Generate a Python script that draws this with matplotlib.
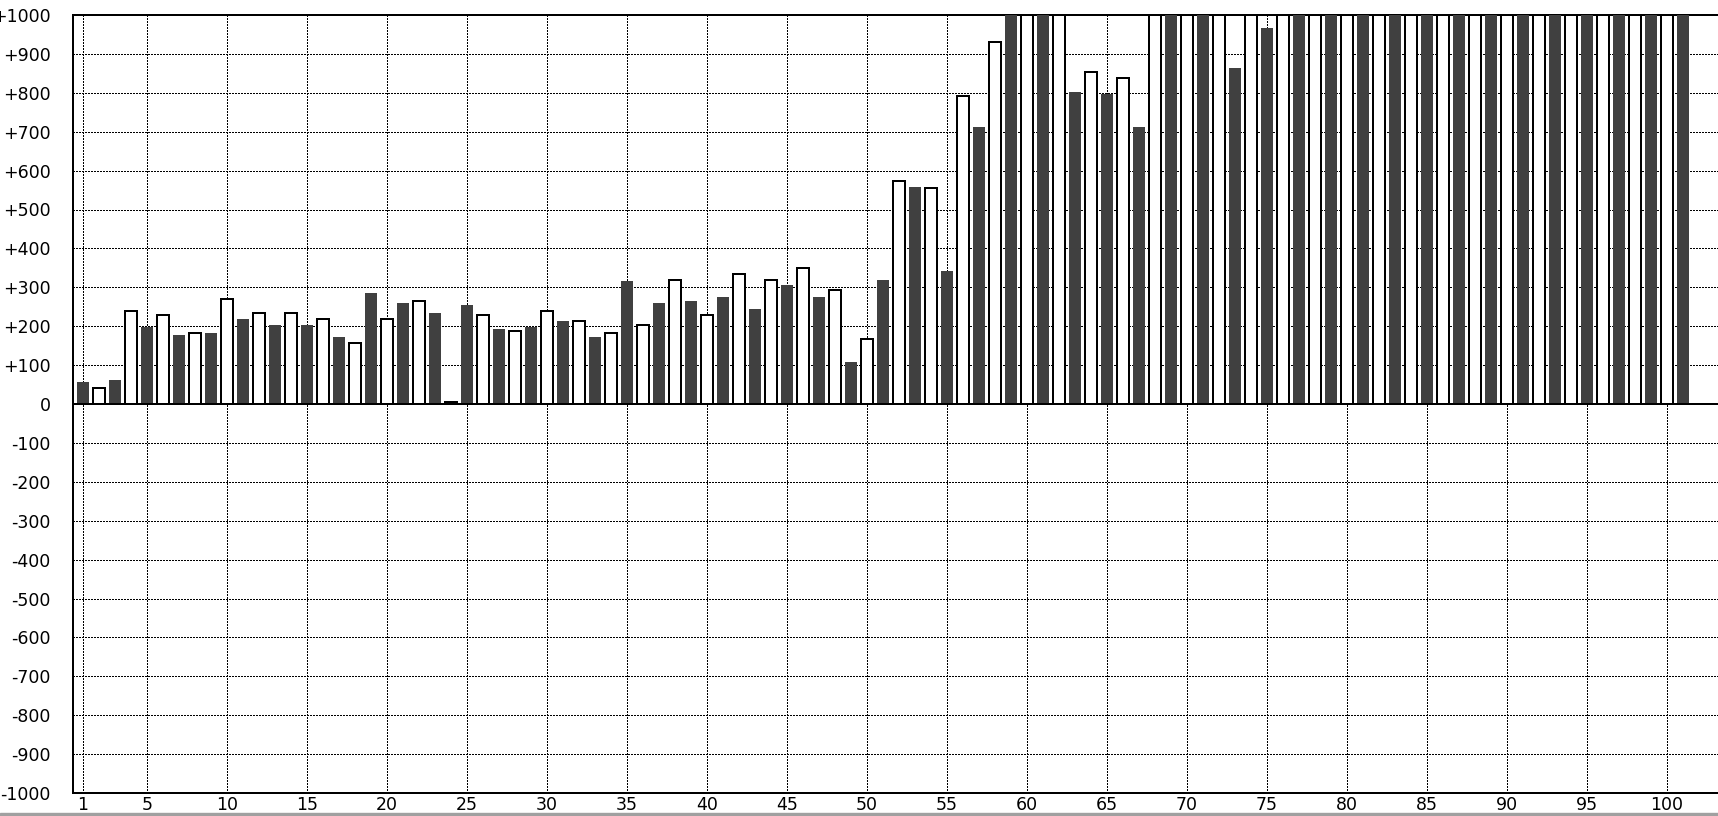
import numpy as np
import matplotlib.pyplot as plt
from matplotlib.patches import Rectangle

"""Bar data read off the chart (bars above +1000 are cut off at the top)"""
positions = np.arange(1, 102)
values = [57, 40, 62, 240, 198, 230, 177, 183, 182, 271,
          219, 235, 203, 235, 203, 219, 172, 157, 286, 219,
          260, 266, 234, 5, 255, 230, 193, 188, 198, 240,
          213, 214, 172, 183, 317, 204, 260, 318, 265, 230,
          276, 334, 245, 318, 307, 350, 276, 292, 109, 167,
          320, 574, 558, 554, 341, 792, 713, 931, 1000, 1000,
          1000, 1000, 801, 854, 796, 838, 713, 1000, 1000, 1000,
          1000, 1000, 863, 1000, 966] + [1000] * 26
x_ticks = [1] + list(range(5, 101, 5))
y_ticks = list(range(-1000, 1001, 100))

plt.rcParams['font.family'] = ['DejaVu Sans']

fig = plt.figure(figsize=(17.18, 8.16), dpi=100)
fig.patch.set_facecolor("white")
W, H = 1718, 816
ax = fig.add_axes([73 / W, 23 / H, (W - 73) / W, (793 - 15) / H])

values = np.array(values)
dark = positions % 2 == 1
ax.bar(positions[dark], values[dark], width=0.75, color="#404040", zorder=3)
ax.bar(positions[~dark], values[~dark], width=0.75, color="white",
       edgecolor="black", linewidth=1.44, zorder=3)
ax.axhline(0, color="black", linewidth=1.44, zorder=4)

x0 = 1 - (82.7 - 73) / 16
ax.set_xlim(x0, x0 + (W - 73) / 16)
ax.set_ylim(-1000, 1000)

ax.set_xticks(x_ticks)
ax.set_xticklabels([str(t) for t in x_ticks])
ax.set_yticks(y_ticks)
ax.set_yticklabels(["0" if t == 0 else f"{t:+d}" for t in y_ticks])
ax.tick_params(axis="both", length=0, labelsize=12.5, colors="black")
ax.tick_params(axis="y", pad=16)
ax.tick_params(axis="x", pad=2)

ax.grid(True, color="black", linestyle=(0, (1, 1)), linewidth=1.0,
        antialiased=False, zorder=0)
ax.set_axisbelow(True)

for side in ["left", "top", "bottom"]:
    ax.spines[side].set_linewidth(1.44)
    ax.spines[side].set_color("black")
ax.spines["right"].set_visible(False)

"""Gray strip along the bottom edge"""
fig.patches.append(Rectangle((0, 0), 1, 3 / H, transform=fig.transFigure,
                             color="#a0a0a0", zorder=0))

plt.savefig("out.png", dpi=100)
